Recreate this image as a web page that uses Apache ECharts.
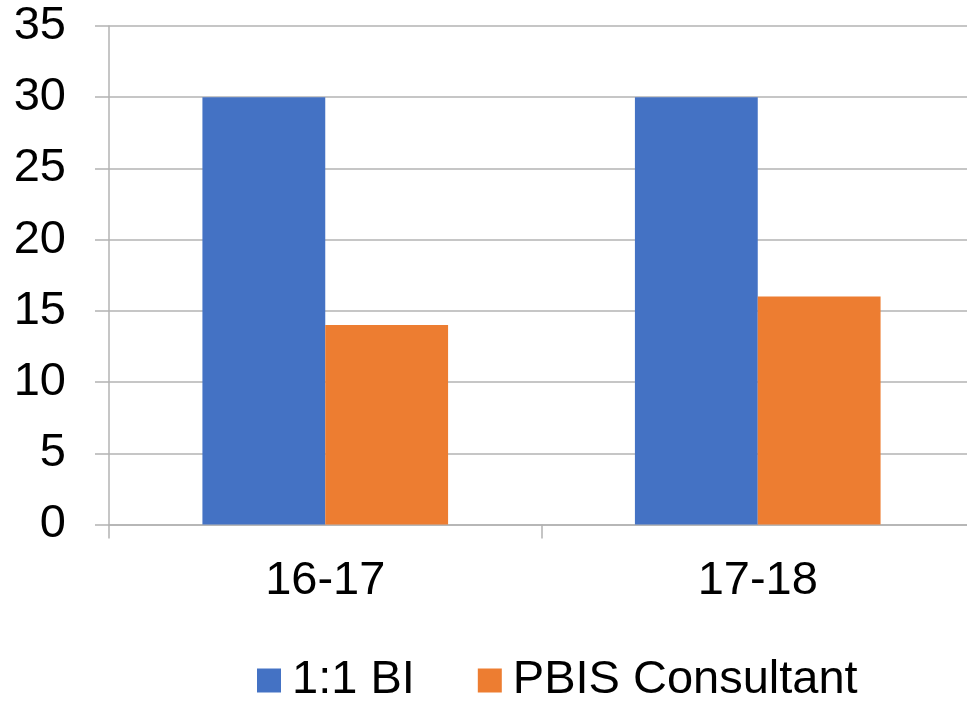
<!DOCTYPE html>
<html>
<head>
<meta charset="utf-8">
<style>
  html, body { margin: 0; padding: 0; background: #fff; }
  #chart { width: 967px; height: 702px; }
</style>
<script src="https://cdn.jsdelivr.net/npm/echarts@6/dist/echarts.min.js"></script>
</head>
<body>
<div id="chart"></div>
<script>
// School years on the category axis
const categories = ['16-17', '17-18'];
// Counts per support type
const seriesNames = ['1:1 BI', 'PBIS Consultant'];
const oneToOneBI = [30, 30];
const pbisConsultant = [14, 16];
// Value axis range
const yMin = 0, yMax = 35, yStep = 5;

const font = 'Liberation Sans, Arial, sans-serif';
const gridGrey = '#b3b3b3';

const chart = echarts.init(document.getElementById('chart'));
chart.setOption({
  animation: false,
  textStyle: { fontFamily: font },
  grid: {
    left: 109, top: 26, width: 865, height: 498.5,
    containLabel: false, outerBoundsMode: 'none'
  },
  legend: {
    left: 257, top: 657, padding: 0,
    itemWidth: 24, itemHeight: 24, itemGap: 63,
    icon: 'rect',
    textStyle: { fontSize: 47, color: '#000', fontFamily: font, padding: [0, 0, 0, 6] },
    data: seriesNames
  },
  xAxis: {
    type: 'category',
    data: categories,
    axisLine: { show: true, lineStyle: { color: gridGrey, width: 1.5 } },
    axisTick: { show: true, length: 14, lineStyle: { color: gridGrey, width: 1.5 } },
    axisLabel: { fontSize: 47, color: '#000', margin: 33, fontFamily: font },
    splitLine: { show: false }
  },
  yAxis: {
    type: 'value',
    min: yMin, max: yMax, interval: yStep,
    axisLine: { show: true, lineStyle: { color: gridGrey, width: 1.5 } },
    axisTick: { show: true, length: 14, lineStyle: { color: gridGrey, width: 1.5 } },
    axisLabel: { fontSize: 47, color: '#000', margin: 43, fontFamily: font },
    splitLine: { show: true, lineStyle: { color: gridGrey, width: 1.5 } }
  },
  series: [
    {
      name: seriesNames[0], type: 'bar', data: oneToOneBI,
      itemStyle: { color: '#4472c4' },
      barWidth: '28.4%', barGap: '0%', barCategoryGap: '43%'
    },
    {
      name: seriesNames[1], type: 'bar', data: pbisConsultant,
      itemStyle: { color: '#ed7d31' },
      barWidth: '28.4%', barGap: '0%'
    }
  ]
});
</script>
</body>
</html>
